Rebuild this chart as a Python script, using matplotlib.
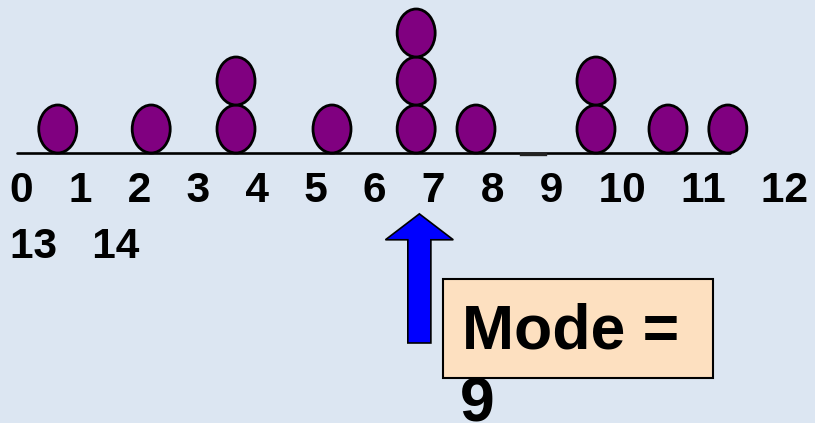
import matplotlib.pyplot as plt
import numpy as np
from matplotlib.patches import Ellipse, Rectangle, FancyArrow

# dot plot data: position of each stack on the line and how many dots it has
dot_x = [0.59, 2.05, 3.375, 4.875, 6.19, 7.125, 9.0, 10.125, 11.06]
counts = [1, 1, 2, 1, 3, 1, 2, 1, 1]
line_labels = ["0", "1", "2", "3", "4", "5", "6", "7", "8", "9", "10", "11", "12"]
wrap_labels = ["13", "14"]
mode_text = "Mode ="
mode_value = "9"

bg = '#dce6f2'
fig = plt.figure(figsize=(8.15, 4.23), dpi=100, facecolor=bg)
ax = fig.add_axes([0, 0, 1, 1])
ax.set_facecolor(bg)
ax.set_xlim(-0.3125, 12.422)
ax.set_ylim(-5.625, 3.1875)
ax.axis('off')

# number line
ax.plot([-0.047, 11.09], [0, 0], color='black', lw=1.9, solid_capstyle='round')
ax.plot([7.83, 8.2], [-0.03, -0.03], color='#222222', lw=2.4)

# stacked dots
for x, c in zip(dot_x, counts):
    for k in range(c):
        ax.add_patch(Ellipse((x, k + 0.5), 0.594, 1.0, facecolor='#800080',
                             edgecolor='black', lw=2.0, zorder=3))

font = 'Liberation Sans'
sp = "   "
ax.text(-0.156, -1.02, sp.join(line_labels), fontsize=30.6, fontweight='bold',
        family=font, va='baseline', ha='left')
ax.text(-0.156, -2.19, sp.join(wrap_labels), fontsize=30.6, fontweight='bold',
        family=font, va='baseline', ha='left')

# arrow pointing at the tallest stack
mx = dot_x[int(np.argmax(counts))]
ax.add_patch(FancyArrow(mx + 0.05, -3.958, 0, 2.69, width=0.36, head_width=1.06,
                        head_length=0.54, length_includes_head=True,
                        facecolor='#0000ff', edgecolor='black', lw=1.2))

ax.add_patch(Rectangle((6.61, -4.6875), 4.22, 2.0625, facecolor='#fde0c0',
                       edgecolor='black', lw=1.5))
ax.text(6.906, -4.083, mode_text, fontsize=45, fontweight='bold', family=font,
        va='baseline', ha='left')
ax.text(6.875, -5.59, mode_value, fontsize=45, fontweight='bold', family=font,
        va='baseline', ha='left')

fig.savefig('out.png', dpi=100, facecolor=bg)
